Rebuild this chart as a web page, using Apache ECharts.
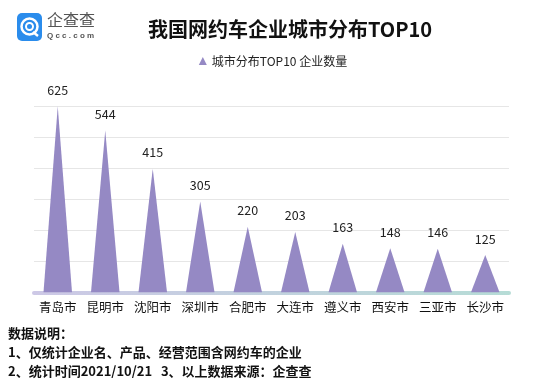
<!DOCTYPE html>
<html><head><meta charset="utf-8">
<script src="https://cdn.jsdelivr.net/npm/echarts@6/dist/echarts.min.js"></script>
<style>html,body{margin:0;padding:0;background:#fff}#c{width:546px;height:385px}</style>
</head><body><div id="c"></div>
<script>
const categories = ['青岛市','昆明市','沈阳市','深圳市','合肥市','大连市','遵义市','西安市','三亚市','长沙市'];
const values = [625,544,415,305,220,203,163,148,146,125];
const seriesName = '城市分布TOP10 企业数量';
const titleText = '我国网约车企业城市分布TOP10';
const notes = ['数据说明：','1、仅统计企业名、产品、经营范围含网约车的企业','2、统计时间2021/10/21   3、以上数据来源：企查查'];

const chart = echarts.init(document.getElementById('c'), null, {renderer:'canvas'});
const ff = '"Microsoft YaHei","Noto Sans CJK SC",sans-serif';
chart.setOption({
  animation:false,
  textStyle:{fontFamily:ff},
  title:{text:titleText,left:285,textAlign:'center',top:14,textStyle:{fontSize:20,fontWeight:'bold',color:'#111',fontFamily:ff}},
  legend:{data:[{name:seriesName,icon:'triangle'}],top:50,left:'center',itemWidth:8,itemHeight:8,itemGap:5,textStyle:{fontSize:12,color:'#222'}},
  grid:{left:34,right:37,top:106.7,bottom:385-292.3},
  xAxis:{type:'category',data:categories,
    axisLine:{show:true,lineStyle:{width:4,color:new echarts.graphic.LinearGradient(0,0,1,0,[{offset:0,color:'#cdc8e6'},{offset:1,color:'#b6dcd6'}])}},
    axisTick:{show:false},
    axisLabel:{interval:0,fontSize:12.5,color:'#111',margin:9}},
  yAxis:{type:'value',min:0,max:624,interval:104,axisLabel:{show:false},axisLine:{show:false},axisTick:{show:false},
    splitLine:{lineStyle:{color:'#e6e6e6',width:1}}},
  series:[{name:seriesName,type:'pictorialBar',symbol:'triangle',barWidth:'60%',data:values,
    itemStyle:{color:'#9589c4'},z:3,
    label:{show:true,position:'top',distance:10,fontSize:12.5,color:'#222'}}],
  graphic:[
    {type:'rect',shape:{x:17,y:13,width:25,height:28,r:5},style:{fill:'#2a8cec'}},
    {type:'circle',shape:{cx:29.5,cy:26.5,r:8},style:{fill:'none',stroke:'#fff',lineWidth:2.5}},
    {type:'circle',shape:{cx:29.5,cy:26.5,r:3.5},style:{fill:'none',stroke:'#fff',lineWidth:2}},
    {type:'line',shape:{x1:33,x2:38,y1:32,y2:36},style:{stroke:'#fff',lineWidth:2.5}},
    {type:'text',left:47,top:12,style:{text:'企查查',font:'16px '+ff,fill:'#555'}},
    {type:'text',left:47,top:32,style:{text:'Q c c . c o m',font:'bold 8px sans-serif',fill:'#555'}},
    {type:'text',left:8,top:327,style:{text:notes[0],font:'bold 13px '+ff,fill:'#111'}},
    {type:'text',left:8,top:346,style:{text:notes[1],font:'bold 13px '+ff,fill:'#111'}},
    {type:'text',left:8,top:365,style:{text:notes[2],font:'bold 13px '+ff,fill:'#111'}}
  ]
});
</script></body></html>
